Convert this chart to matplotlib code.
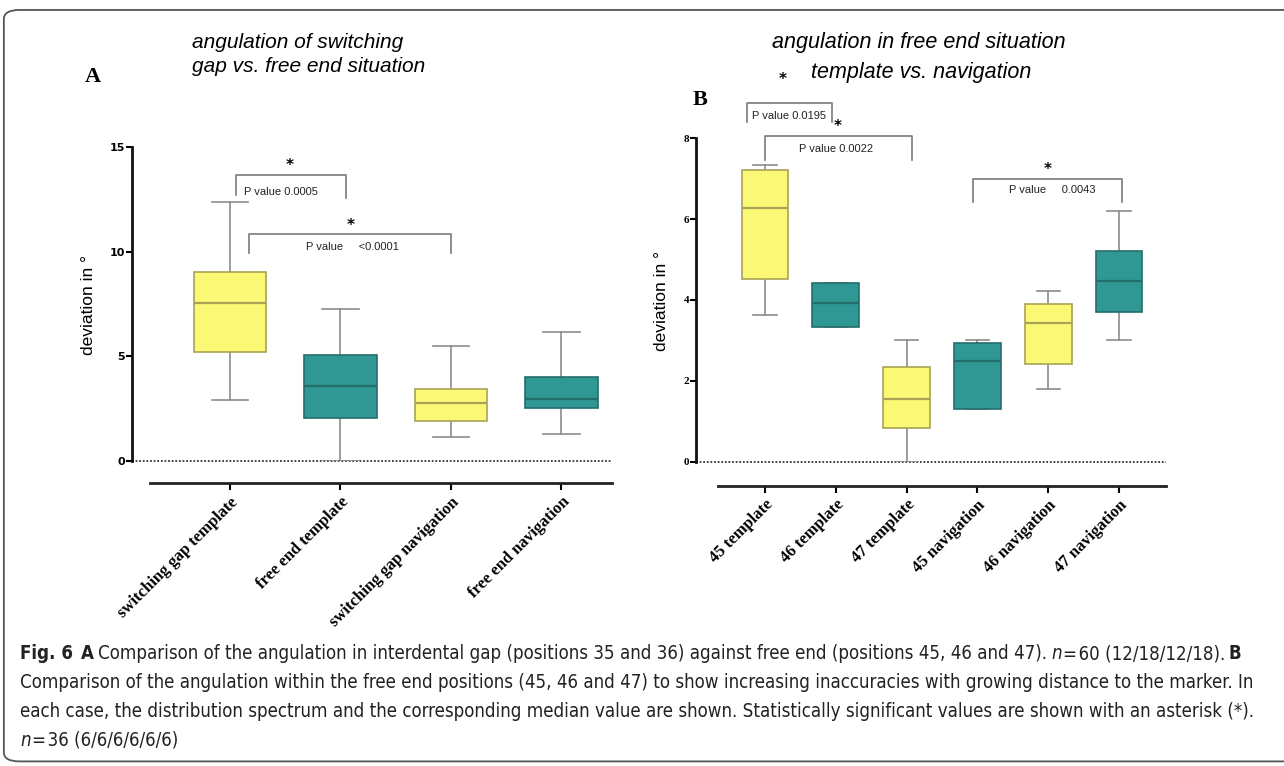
import matplotlib
matplotlib.use("Agg")
import matplotlib.pyplot as plt
from matplotlib.patches import FancyBboxPatch

# panel A: angulation, switching gap vs free end
A_labels = ["switching gap template", "free end template",
            "switching gap navigation", "free end navigation"]
A_whislo = [2.90, 0.00, 1.13, 1.30]
A_q1 = [5.22, 2.07, 1.91, 2.52]
A_med = [7.55, 3.60, 2.79, 2.98]
A_q3 = [9.04, 5.06, 3.42, 4.03]
A_whishi = [12.39, 7.26, 5.48, 6.18]
A_pvals = ["P value 0.0005", "P value     <0.0001"]

# panel B: free end, template vs navigation
B_labels = ["45 template", "46 template", "47 template",
            "45 navigation", "46 navigation", "47 navigation"]
B_whislo = [3.62, 3.32, 0.00, 1.30, 1.79, 3.01]
B_q1 = [4.51, 3.32, 0.83, 1.30, 2.41, 3.69]
B_med = [6.27, 3.92, 1.56, 2.50, 3.43, 4.46]
B_q3 = [7.22, 4.42, 2.33, 2.93, 3.91, 5.22]
B_whishi = [7.33, 4.42, 3.01, 3.01, 4.22, 6.20]
B_pvals = ["P value 0.0195", "P value 0.0022", "P value     0.0043"]

YELLOW = "#fbf876"
YELLOW_EDGE = "#a8a356"
TEAL = "#2f9794"
TEAL_EDGE = "#236e6b"
GREY = "#8c8c8c"


def draw_boxes(ax, lo, q1, med, q3, hi):
    stats = []
    for i in range(len(med)):
        stats.append(dict(whislo=lo[i], q1=q1[i], med=med[i], q3=q3[i], whishi=hi[i]))
    pos = list(range(len(med)))
    bp = ax.bxp(stats, positions=pos, widths=0.66, capwidths=0.33,
                showfliers=False, patch_artist=True, manage_ticks=False)
    for i, box in enumerate(bp["boxes"]):
        if i % 2 == 0:
            box.set(facecolor=YELLOW, edgecolor=YELLOW_EDGE, linewidth=1.2, zorder=3)
            bp["medians"][i].set(color=YELLOW_EDGE, linewidth=1.6, zorder=4)
        else:
            box.set(facecolor=TEAL, edgecolor=TEAL_EDGE, linewidth=1.2, zorder=3)
            bp["medians"][i].set(color=TEAL_EDGE, linewidth=1.6, zorder=4)
    for w in bp["whiskers"] + bp["caps"]:
        w.set(color=GREY, linewidth=1.2, zorder=2)


def bracket(ax, x0, x1, top, leg0, leg1, text, tx, ty, sx, sy, ha="center"):
    ax.plot([x0, x0, x1, x1], [leg0, top, top, leg1], color="#7a7a7a",
            linewidth=1.2, clip_on=False)
    ax.text(tx, ty, text, ha=ha, va="center", fontsize=8, family="Liberation Sans",
            color="#222222", clip_on=False)
    ax.text(sx, sy, "*", ha="center", va="center", fontsize=11, fontweight="bold",
            clip_on=False)


def style_axes(ax, labels, ticks, ymax, xlim, xstart, outward, tickfont):
    ax.set_xlim(*xlim)
    ax.set_ylim(0, ymax)
    ax.axhline(0, color="#333333", linestyle=(0, (1, 1)), linewidth=1.3, zorder=1,
               clip_on=False)
    for s in ["top", "right"]:
        ax.spines[s].set_visible(False)
    ax.spines["left"].set(linewidth=2.0, color="#111111", zorder=5)
    ax.spines["bottom"].set(linewidth=2.0, color="#222222")
    ax.spines["bottom"].set_position(("outward", outward))
    ax.spines["bottom"].set_bounds(xstart, xlim[1])
    ax.set_xticks(range(len(labels)))
    ax.set_xticklabels(labels, rotation=45, ha="right", rotation_mode="anchor",
                       family="Liberation Serif", fontweight="bold", fontsize=12)
    ax.set_yticks(ticks)
    ax.set_yticklabels([str(t) for t in ticks], family=tickfont, fontweight="bold",
                       fontsize=8)
    ax.tick_params(axis="y", length=4, width=1.5, pad=1)
    ax.tick_params(axis="x", length=5, width=1.5, pad=3)
    ax.set_ylabel("deviation in °", fontsize=12.5, family="Liberation Sans")


fig = plt.figure(figsize=(12.84, 7.66), dpi=100)

# outer frame of the figure box
frame = FancyBboxPatch((0.003, 0.006), 1.2, 0.981, boxstyle="round,pad=0,rounding_size=0.012",
                       transform=fig.transFigure, facecolor="none", edgecolor="#555555",
                       linewidth=1.3)
fig.patches.append(frame)

axA = fig.add_axes([0.1028, 0.3982, 0.3738, 0.4099])
draw_boxes(axA, A_whislo, A_q1, A_med, A_q3, A_whishi)
style_axes(axA, A_labels, [0, 5, 10, 15], 15, (-0.887, 3.457), -0.724, 15.8, "DejaVu Sans")
axA.yaxis.set_label_coords(-0.075, 0.497)
bracket(axA, 0.05, 1.05, 13.66, 12.71, 12.55, A_pvals[0], 0.127, 12.84, 0.54, 14.1, ha="left")
bracket(axA, 0.17, 2.0, 10.83, 9.92, 9.92, A_pvals[1], 1.11, 10.24, 1.09, 11.24)

axB = fig.add_axes([0.5421, 0.3973, 0.366, 0.4222])
draw_boxes(axB, B_whislo, B_q1, B_med, B_q3, B_whishi)
style_axes(axB, B_labels, [0, 2, 4, 6, 8], 8, (-0.975, 5.664), -0.664, 17.3, "Liberation Serif")
axB.yaxis.set_label_coords(-0.057, 0.497)
bracket(axB, -0.25, 0.95, 8.88, 8.4, 8.4, B_pvals[0], 0.34, 8.54, 0.25, 9.45)
bracket(axB, 0.0, 2.08, 8.06, 7.47, 7.47, B_pvals[1], 1.0, 7.74, 1.03, 8.29)
bracket(axB, 2.94, 5.04, 6.99, 6.42, 6.42, B_pvals[2], 4.05, 6.73, 3.99, 7.22)

# titles and panel letters
fig.text(0.1495, 0.929, "angulation of switching\ngap vs. free end situation",
         fontsize=15, fontstyle="italic", family="Liberation Sans", va="center", ha="left",
         linespacing=1.3)
fig.text(0.7157, 0.945, "angulation in free end situation",
         fontsize=15.5, fontstyle="italic", family="Liberation Sans", va="center", ha="center")
fig.text(0.7175, 0.9047, "template vs. navigation",
         fontsize=15.5, fontstyle="italic", family="Liberation Sans", va="center", ha="center")
fig.text(0.0724, 0.8995, "A", fontsize=16, fontweight="bold", family="Liberation Serif",
         va="center", ha="center")
fig.text(0.5452, 0.8695, "B", fontsize=16, fontweight="bold", family="Liberation Serif",
         va="center", ha="center")

# caption, drawn piece by piece to mix bold / italic
renderer = fig.canvas.get_renderer()
CAP_SIZE = 13.4


def caption_line(y, parts, size):
    x = 20
    for text, weight, style, gap in parts:
        x += gap
        t = fig.text(x / 1284, y, text, fontsize=size, fontweight=weight, fontstyle=style,
                     family="DejaVu Sans", fontstretch="condensed", va="baseline",
                     color="#222222")
        bb = t.get_window_extent(renderer=renderer)
        x = bb.x1


# keep the longest line inside the frame
line2 = ("Comparison of the angulation within the free end positions (45, 46 and 47) to show "
         "increasing inaccuracies with growing distance to the marker. In")
probe = fig.text(0, 0, line2, fontsize=CAP_SIZE, family="DejaVu Sans", fontstretch="condensed")
w = probe.get_window_extent(renderer=renderer).width
probe.remove()
if w > 1244:
    CAP_SIZE = CAP_SIZE * 1244 / w

caption_line(1 - 659 / 766, [
    ("Fig. 6", "bold", "normal", 0),
    ("A", "bold", "normal", 8),
    ("Comparison of the angulation in interdental gap (positions 35 and 36) against free end "
     "(positions 45, 46 and 47).", "normal", "normal", 4),
    ("n", "normal", "italic", 4),
    ("=\u200a60 (12/18/12/18).", "normal", "normal", 1),
    ("B", "bold", "normal", 4),
], CAP_SIZE)
caption_line(1 - 688 / 766, [(line2, "normal", "normal", 0)], CAP_SIZE)
caption_line(1 - 717 / 766, [
    ("each case, the distribution spectrum and the corresponding median value are shown. "
     "Statistically significant values are shown with an asterisk (*).", "normal", "normal", 0),
], CAP_SIZE)
caption_line(1 - 746 / 766, [
    ("n", "normal", "italic", 0),
    ("=\u200a36 (6/6/6/6/6/6)", "normal", "normal", 1),
], CAP_SIZE)

fig.savefig("out.png", dpi=100)
